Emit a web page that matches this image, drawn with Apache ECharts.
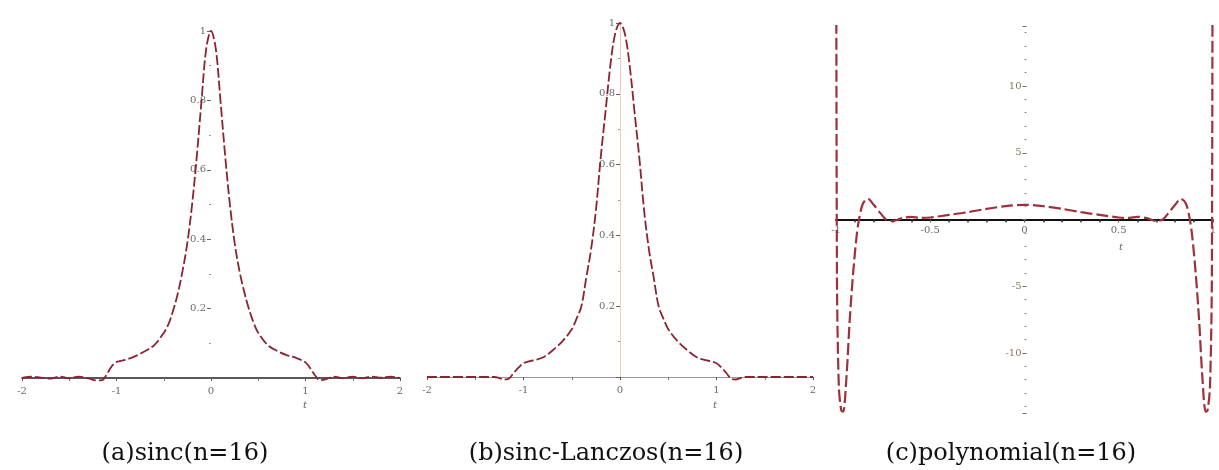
<!DOCTYPE html>
<html>
<head>
<meta charset="utf-8">
<script src="https://cdn.jsdelivr.net/npm/echarts@6/dist/echarts.min.js"></script>
<style>html,body{margin:0;padding:0;background:#fff}#c{width:1219px;height:470px}</style>
</head>
<body>
<div id="c"></div>
<script>
// ---- data ----
const titles = ['(a)sinc(n=16)', '(b)sinc-Lanczos(n=16)', '(c)polynomial(n=16)'];

const tA = [-2,-1.9,-1.8,-1.7,-1.6,-1.5,-1.4,-1.3,-1.2,-1.15,-1.1,-1.05,-1.0,-0.9,-0.8,-0.7,-0.6,-0.5,-0.45,-0.4,-0.35,-0.3,-0.25,-0.2,-0.15,-0.1,-0.05,0,
            0.05,0.1,0.15,0.2,0.25,0.3,0.35,0.4,0.45,0.5,0.6,0.7,0.8,0.9,1.0,1.05,1.1,1.15,1.2,1.3,1.4,1.5,1.6,1.7,1.8,1.9,2];
const yA = [0,0.004,0.001,-0.002,0.004,-0.001,0.004,-0.001,-0.007,-0.006,0.012,0.034,0.046,0.053,0.063,0.077,0.095,0.13,0.155,0.195,0.245,0.31,0.39,0.5,0.64,0.8,0.95,1.0,
            0.95,0.8,0.64,0.5,0.39,0.31,0.25,0.2,0.16,0.13,0.095,0.078,0.066,0.058,0.045,0.028,0.008,-0.006,-0.005,0.004,-0.001,0.004,-0.001,0.004,0.001,0.004,0];

const tB = [-2,-1.5,-1.3,-1.25,-1.2,-1.15,-1.1,-1.05,-1.0,-0.9,-0.8,-0.7,-0.6,-0.5,-0.45,-0.4,-0.35,-0.3,-0.25,-0.2,-0.15,-0.1,-0.05,0,
            0.05,0.1,0.15,0.2,0.25,0.3,0.35,0.4,0.45,0.5,0.6,0.7,0.8,0.9,1.0,1.05,1.1,1.15,1.2,1.25,1.3,1.5,2];
const yB = [0,0,0,-0.003,-0.007,-0.004,0.012,0.027,0.039,0.047,0.055,0.075,0.1,0.135,0.165,0.2,0.28,0.36,0.47,0.62,0.75,0.88,0.97,1.0,
            0.97,0.88,0.75,0.62,0.47,0.36,0.28,0.2,0.165,0.135,0.1,0.075,0.055,0.047,0.039,0.027,0.012,-0.004,-0.007,-0.003,0,0,0];

const tC = [-1.0,-0.995,-0.985,-0.972,-0.962,-0.944,-0.927,-0.909,-0.891,-0.878,-0.857,-0.83,-0.8,-0.76,-0.735,-0.7,-0.65,-0.6,-0.55,-0.5,-0.4,-0.3,-0.2,-0.1,0,
            0.1,0.2,0.3,0.4,0.5,0.55,0.6,0.65,0.7,0.735,0.76,0.8,0.83,0.857,0.878,0.891,0.909,0.927,0.944,0.962,0.972,0.985,0.995,1.0];
const yC = [40,-4,-12.5,-14.3,-14.4,-11.7,-7.5,-4.0,-1.3,0,1.2,1.55,1.1,0.4,0,-0.12,0.1,0.2,0.12,0.15,0.35,0.55,0.8,1.0,1.1,
            1.0,0.8,0.55,0.35,0.15,0.12,0.2,0.1,-0.12,0,0.4,1.1,1.55,1.2,0,-1.3,-4.0,-7.5,-11.7,-14.4,-14.3,-12.5,-4,40];

const pair = (xs, ys) => xs.map((x, i) => [x, ys[i]]);

const curveColor = '#8c2333';
const labelColor = '#6a6a6a';
const tickFont = 'DejaVu Serif';

// grid geometry (pixels)
const G = [
  { left: 22, top: 31, width: 378, height: 347 },
  { left: 427, top: 23, width: 386, height: 354 },
  { left: 836, top: 26, width: 381, height: 387 }
];

function xAxisCfg(idx, min, max, interval, lineColor, lineWidth) {
  return {
    type: 'value', gridIndex: idx, min: min, max: max, interval: interval,
    axisLine: { show: true, onZero: false, lineStyle: { color: lineColor, width: lineWidth } },
    axisTick: { show: true, length: 3, lineStyle: { color: '#555' } },
    minorTick: { show: true, splitNumber: 2, length: 3, lineStyle: { color: '#777' } },
    axisLabel: { show: true, color: labelColor, fontSize: 10, fontFamily: tickFont, margin: 8 },
    splitLine: { show: false }
  };
}

function yAxisCfg(idx, extra) {
  return Object.assign({
    type: 'value', gridIndex: idx, position: 'left',
    axisLine: { show: false, onZero: false },
    axisTick: { show: true, length: 4, lineStyle: { color: '#666' } },
    minorTick: { show: true, splitNumber: 2, length: 2, lineStyle: { color: '#999' } },
    axisLabel: { color: labelColor, fontSize: 10, fontFamily: tickFont, margin: 5,
                 formatter: v => v === 0 ? '' : String(v) },
    splitLine: { show: false }
  }, extra);
}

const axXA = xAxisCfg(0, -2, 2, 1, '#222', 1.5);
const axXB = xAxisCfg(1, -2, 2, 1, '#9a9a9a', 1);
const axXC = xAxisCfg(2, -1, 1, 0.5, '#111', 2);
axXC.offset = -(G[2].height / 2);
axXC.minorTick = { show: true, splitNumber: 5, length: 3, lineStyle: { color: '#333', width: 1.5 } };
axXC.axisLabel.margin = 6;

const axYA = yAxisCfg(0, { min: 0, max: 1, interval: 0.2, offset: -(G[0].width / 2) });
const axYB = yAxisCfg(1, { min: 0, max: 1, interval: 0.2, offset: -(G[1].width / 2),
  axisLine: { show: true, onZero: false, lineStyle: { color: '#f3c9b8', width: 1 } } });
const axYC = yAxisCfg(2, { min: -14.5, max: 14.5, splitNumber: 6, offset: -(G[2].width / 2) });
axYC.minorTick = { show: true, splitNumber: 5, length: 2, lineStyle: { color: '#888' } };
axYC.axisLabel = { color: '#8a7860', fontSize: 10, fontFamily: tickFont, margin: 5,
                   formatter: v => (v !== 0 && v % 5 === 0) ? String(v) : '' };

const titleStyle = { fontFamily: 'DejaVu Serif', fontSize: 24, fontWeight: 'normal', color: '#111' };

const option = {
  animation: false,
  backgroundColor: '#ffffff',
  title: [
    { text: titles[0], left: 180, top: 437, textAlign: 'center', textStyle: titleStyle },
    { text: titles[1], left: 601, top: 437, textAlign: 'center', textStyle: titleStyle },
    { text: titles[2], left: 1006, top: 437, textAlign: 'center', textStyle: titleStyle }
  ],
  grid: G,
  xAxis: [axXA, axXB, axXC],
  yAxis: [axYA, axYB, axYC],
  graphic: [
    { type: 'text', left: 303, top: 400, style: { text: 't', font: 'italic 10px DejaVu Serif', fill: '#666' } },
    { type: 'text', left: 713, top: 400, style: { text: 't', font: 'italic 10px DejaVu Serif', fill: '#666' } },
    { type: 'text', left: 1119, top: 242, style: { text: 't', font: 'italic 10px DejaVu Serif', fill: '#666' } }
  ],
  series: [
    { type: 'line', xAxisIndex: 0, yAxisIndex: 0, data: pair(tA, yA), smooth: 0.35, showSymbol: false, clip: false,
      lineStyle: { color: curveColor, width: 1.8, type: [10, 3] } },
    { type: 'line', xAxisIndex: 1, yAxisIndex: 1, data: pair(tB, yB), smooth: 0.35, showSymbol: false, clip: false,
      lineStyle: { color: curveColor, width: 1.8, type: [10, 3] } },
    { type: 'line', xAxisIndex: 2, yAxisIndex: 2, data: pair(tC, yC), smooth: 0.3, showSymbol: false, clip: true,
      lineStyle: { color: '#a0303c', width: 2.2, type: [12, 4] } }
  ]
};

const chart = echarts.init(document.getElementById('c'), null, { renderer: 'canvas' });
chart.setOption(option);
</script>
</body>
</html>
